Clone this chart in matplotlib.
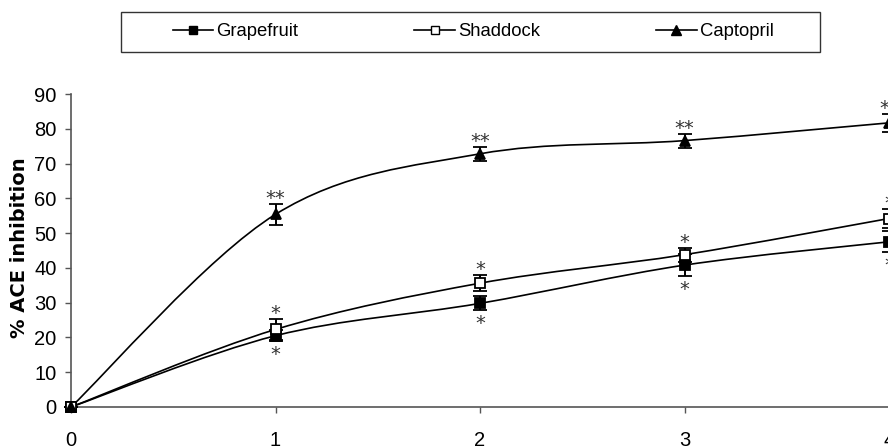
import numpy as np
import matplotlib
matplotlib.use('Agg')
import matplotlib.pyplot as plt
from matplotlib.path import Path
from matplotlib.patches import PathPatch, Rectangle
from matplotlib.lines import Line2D

plt.rcParams['font.family'] = ['Liberation Sans', 'DejaVu Sans']

# data
x = [0, 1, 2, 3, 4]
grapefruit = [0, 20.5, 29.8, 40.8, 47.5]
grapefruit_err = [0, 1.5, 2.0, 3.2, 3.0]
shaddock = [0, 22.3, 35.6, 43.8, 54.2]
shaddock_err = [0, 3.0, 2.3, 2.0, 2.7]
captopril = [0, 55.4, 72.8, 76.6, 81.7]
captopril_err = [0, 3.0, 2.0, 2.0, 2.5]

grapefruit_sig = ['', '*', '*', '*', '*']
shaddock_sig = ['', '*', '*', '*', '*']
captopril_sig = ['', '**', '**', '**', '**']

yticks = [0, 10, 20, 30, 40, 50, 60, 70, 80, 90]
ylabel = '% ACE inhibition'
names = ['Grapefruit', 'Shaddock', 'Captopril']

W, H = 888, 447


def smooth_path(xs, ys):
    # Bezier curve through the points, like a spreadsheet "smoothed line"
    pts = np.column_stack([xs, ys]).astype(float)
    ext = np.vstack([pts[0], pts, pts[-1]])
    verts = [pts[0]]
    codes = [Path.MOVETO]
    for i in range(len(pts) - 1):
        p0, p1, p2, p3 = ext[i], ext[i + 1], ext[i + 2], ext[i + 3]
        verts += [p1 + (p2 - p0) / 6, p2 - (p3 - p1) / 6, p2]
        codes += [Path.CURVE4] * 3
    return Path(verts, codes)


def main():
    fig = plt.figure(figsize=(W / 100, H / 100), dpi=100)
    px = 204.5  # pixels per x unit
    xmax = 4.1
    ax = fig.add_axes([71 / W, 40 / H, xmax * px / W, 313 / H])

    series = [
        (grapefruit, grapefruit_err, grapefruit_sig, 's', 'black', -1),
        (shaddock, shaddock_err, shaddock_sig, 's', 'white', 1),
        (captopril, captopril_err, captopril_sig, '^', 'black', 1),
    ]
    for ys, err, sig, mk, mfc, side in series:
        ax.add_patch(PathPatch(smooth_path(x, ys), facecolor='none',
                               edgecolor='black', lw=1.2, zorder=2))
        ax.errorbar(x, ys, yerr=err, fmt=mk, color='black', mfc=mfc, mec='black',
                    ms=6.5 if mk == 's' else 7.5, mew=1.3, elinewidth=1.4,
                    capsize=5, capthick=1.4, zorder=3, clip_on=False)
        for xi, yi, ei, s in zip(x, ys, err, sig):
            if not s:
                continue
            off = 0 if side > 0 else -19
            ax.annotate(s, (xi, yi + side * ei), xytext=(0, off),
                        textcoords='offset pixels', ha='center', va='baseline',
                        fontsize=14, family='DejaVu Sans', color='#333333',
                        annotation_clip=False)

    ax.set_xlim(0, xmax)
    ax.set_ylim(0, 90)
    ax.set_xticks(x)
    ax.set_yticks(yticks)
    for sp in ['top', 'right']:
        ax.spines[sp].set_visible(False)
    for sp in ['left', 'bottom']:
        ax.spines[sp].set_color('#555555')
        ax.spines[sp].set_linewidth(1.2)
    ax.tick_params(axis='both', direction='out', length=4.5, width=1.0,
                   color='#555555', labelsize=14.5)
    ax.tick_params(axis='x', pad=13)
    ax.tick_params(axis='y', pad=6)

    fig.text(20 / W, 1 - 248 / H, ylabel, rotation=90, ha='center', va='center',
             fontsize=14, fontweight='bold', family='DejaVu Sans')

    # legend box
    fig.patches.append(Rectangle((121 / W, 1 - 52 / H), 699 / W, 40 / H,
                                 transform=fig.transFigure, fill=False,
                                 edgecolor='#333333', lw=1.0))
    handles = [
        Line2D([], [], color='black', lw=1.2, marker='s', mfc='black', mec='black', ms=6),
        Line2D([], [], color='black', lw=1.2, marker='s', mfc='white', mec='black', ms=6),
        Line2D([], [], color='black', lw=1.2, marker='^', mfc='black', mec='black', ms=7),
    ]
    fig.legend(handles, names, loc='center', bbox_to_anchor=(473 / W, 1 - 32 / H),
               ncol=3, frameon=False, fontsize=13.3, handlelength=2.2,
               handletextpad=0.15, columnspacing=6.3, borderpad=0)

    fig.savefig('out.png', dpi=100)


if __name__ == '__main__':
    main()
